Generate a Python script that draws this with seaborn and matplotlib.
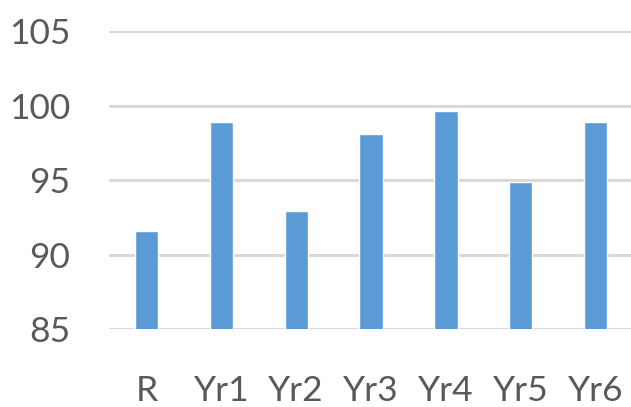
import matplotlib
matplotlib.use('Agg')
import matplotlib.pyplot as plt
import seaborn as sns
import pandas as pd

categories = ['R', 'Yr1', 'Yr2', 'Yr3', 'Yr4', 'Yr5', 'Yr6']
values = [91.6, 98.9, 92.9, 98.1, 99.6, 94.9, 98.9]
yticks = [85, 90, 95, 100, 105]

sns.set_style('white')
plt.rcParams['font.family'] = ['Lato', 'DejaVu Sans']

df = pd.DataFrame({'cat': categories, 'val': values})

fig = plt.figure(figsize=(6.31, 4.07), dpi=100)
ax = fig.add_axes([0.173, 0.191, 0.83, 0.733])

sns.barplot(data=df, x='cat', y='val', color='#5b9bd5', saturation=1,
            width=0.312, ax=ax, zorder=3)

ax.set_ylim(85, 105)
ax.set_xlim(-0.5, 6.5)
ax.set_yticks(yticks)
ax.yaxis.grid(True, color='#d9d9d9', linewidth=2.2, zorder=0)
ax.set_axisbelow(True)
for s in ax.spines.values():
    s.set_visible(False)
ax.set_xlabel('')
ax.set_ylabel('')
ax.tick_params(axis='y', length=0, pad=28, labelsize=25.5, labelcolor='#595959')
ax.tick_params(axis='x', length=0, pad=33, labelsize=25.5, labelcolor='#595959')

fig.savefig('out.png', dpi=100)
